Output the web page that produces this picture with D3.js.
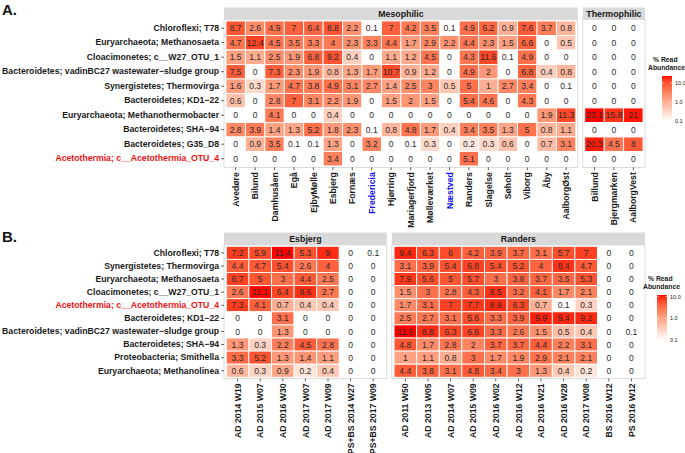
<!DOCTYPE html>
<html><head><meta charset="utf-8">
<script src="https://cdn.jsdelivr.net/npm/d3@7"></script>
<style>body{margin:0;background:#fff}svg{display:block}</style>
</head><body><svg id="c" width="685" height="453"></svg>
<script>
// ---------------- DATA ----------------
const rowsA = ["Chloroflexi; T78","Euryarchaeota; Methanosaeta","Cloacimonetes; c__W27_OTU_1",
  "Bacteroidetes; vadinBC27 wastewater\u2212sludge group","Synergistetes; Thermovirga","Bacteroidetes; KD1\u221222",
  "Euryarchaeota; Methanothermobacter","Bacteroidetes; SHA\u221294","Bacteroidetes; G35_D8","Acetothermia; c__Acetothermia_OTU_4"];
const colsMeso = ["Avedøre","Bilund","Damhusåen","Egå","EjbyMølle","Esbjerg","Fornæs","Fredericia","Hjørring",
  "Mariagerfjord","Mølleværket","Næstved","Randers","Slagelse","Søholt","Viborg","Åby","AalborgØst"];
const colsThermo = ["Billund","Bjergmarken","AalborgVest"];
const valsMeso = [
  [8.7,2.6,4.9,7,6.4,8.8,2.2,0.1,7,4.2,3.5,0.1,4.9,6.2,0.9,7.6,3.7,0.8],
  [4.7,12.4,4.5,3.5,3.3,4,2.3,3.3,4.4,1.7,2.9,2.2,4.4,2.3,1.5,6.6,0,0.5],
  [1.5,1.1,2.5,1.9,6.8,9.2,0.4,0,1.1,1.2,4.5,0,4.3,11.6,0.1,4.9,0,0],
  [7.5,0,7.3,2.3,1.9,0.8,1.3,1.7,10.7,0.9,1.2,0,4.9,2,0,6.8,0.4,0.8],
  [1.6,0.3,1.7,4.7,3.8,4.9,3.1,2.7,1.4,2.5,3,0.5,5,1,2.7,3.4,0,0.1],
  [0.6,0,2.8,7,3.1,2.2,1.9,0,1.5,2,1.5,0,5.4,4.6,0,4.3,0,0],
  [0,0,4.1,0,0,0.4,0,0,0,0,0,0,0,0,0,0,1.9,11.3],
  [2.8,3.9,1.4,1.3,5.2,1.8,2.3,0.1,0.8,4.8,1.7,0.4,3.4,3.5,1.3,5,0.8,1.1],
  [0,0.9,3.5,0.1,0.1,1.3,0,3.2,0,0.1,0.3,0,0.2,0.3,0.6,0,0.7,3.1],
  [0,0,0,0,0,3.4,0,0,0,0,0,0,5.1,0,0,0,0,0]
];
const valsThermo = [
  [0,0,0],[0,0,0],[0,0,0],[0,0,0],[0,0,0],[0,0,0],[23.1,15.8,21],[0,0,0],[20.3,4.5,8],[0,0,0]
];
const rowsB = ["Chloroflexi; T78","Synergistetes; Thermovirga","Euryarchaeota; Methanosaeta","Cloacimonetes; c__W27_OTU_1",
  "Acetothermia; c__Acetothermia_OTU_4","Bacteroidetes; KD1\u221222","Bacteroidetes; vadinBC27 wastewater\u2212sludge group",
  "Bacteroidetes; SHA\u221294","Proteobacteria; Smithella","Euryarchaeota; Methanolinea"];
const colsEsb = ["AD 2014 W19","AD 2015 W07","AD 2016 W30","AD 2017 W07","AD 2017 W09","PS+BS 2014 W27","PS+BS 2017 W09"];
const colsRan = ["AD 2011 W50","AD 2013 W05","AD 2014 W07","AD 2015 W09","AD 2016 W02","AD 2016 W12","AD 2016 W21",
  "AD 2016 W28","AD 2017 W08","BS 2016 W12","PS 2016 W12"];
const valsEsb = [
  [7.2,5.9,11.4,5.3,9,0,0.1],
  [4.4,4.7,5.4,2.6,4,0,0],
  [6.7,5,3,4.4,2.5,0,0],
  [2.6,11.1,6.4,8.6,2.7,0,0],
  [7.3,4.1,0.7,0.4,0.4,0,0],
  [0,0,3.1,0,0,0,0],
  [0,0,1.3,0,0,0,0],
  [1.3,0.3,2.2,4.5,2.8,0,0],
  [3.3,5.2,1.3,1.4,1.1,0,0],
  [0.6,0.3,0.9,0.2,0.4,0,0]
];
const valsRan = [
  [9.4,6.3,6,4.2,3.9,3.7,3.1,5.7,7,0,0],
  [3.1,3.9,5.4,6.8,5.4,5.2,4,8.4,4.7,0,0],
  [7.9,5.6,5,5.7,3,3.8,3.7,3.5,5.3,0,0],
  [1.5,3,2.8,4.3,8.5,3.2,4.1,1.7,2.1,0,0],
  [1.7,3.1,7,7.7,8.9,6.3,0.7,0.1,0.3,0,0],
  [2.5,2.7,3.1,5.6,3.3,3.9,9.9,9.4,9.2,0,0],
  [11.5,8.8,6.3,6.6,3.3,2.6,1.5,0.5,0.4,0,0.1],
  [4.8,1.7,2.8,2,3.7,3.7,4.4,2.2,3.1,0,0],
  [1,1.1,0.8,3,1.7,1.9,2.9,2.1,2.1,0,0],
  [4.4,3.8,3.1,4.8,3.4,3,1.3,0.4,0.2,0,0]
];
const redRows = ["Acetothermia; c__Acetothermia_OTU_4"];
const blueCols = ["Fredericia","Næstved"];
const legendTicks = [10, 1, 0.1];

// ---------------- DRAW ----------------
const FONT = "'Liberation Sans', Arial, Helvetica, sans-serif";
const AXFS = 8.7;
const svg = d3.select("#c").style("font-family", FONT);
svg.append("rect").attr("width",685).attr("height",453).attr("fill","#fff");

function facet(o) {
  const x = d3.scaleBand().domain(o.cols).range([o.x0, o.x1]).paddingInner(0).paddingOuter(0.1);
  const y = d3.scaleBand().domain(o.rows).range([o.y0, o.y1]).paddingInner(0).paddingOuter(0.1);
  const g = svg.append("g");
  g.append("rect").attr("x", o.x0).attr("y", o.sy).attr("width", o.x1 - o.x0).attr("height", o.y0 - o.sy)
    .attr("fill", "#d9d9d9");
  g.append("text").attr("x", (o.x0 + o.x1) / 2).attr("y", (o.sy + o.y0) / 2).attr("dy", "0.35em")
    .attr("text-anchor", "middle").attr("font-size", 8.8).attr("font-weight", "bold").attr("fill", "#1a1a1a")
    .text(o.strip);
  g.append("rect").attr("x", o.x0).attr("y", o.y0).attr("width", o.x1 - o.x0).attr("height", o.y1 - o.y0)
    .attr("fill", "#fff").attr("stroke", "#d4d4d4").attr("stroke-width", 0.8);
  const cells = [];
  o.rows.forEach((r, i) => o.cols.forEach((c, j) => cells.push({r, c, v: o.vals[i][j]})));
  g.selectAll("rect.cell").data(cells).join("rect").attr("class", "cell")
    .attr("x", d => x(d.c)).attr("y", d => y(d.r)).attr("width", x.bandwidth()).attr("height", y.bandwidth())
    .attr("fill", d => d.v > 0 ? o.color(d.v) : "#fff").attr("stroke", "#fff").attr("stroke-width", 0.9);
  g.selectAll("text.val").data(cells).join("text").attr("class", "val")
    .attr("x", d => x(d.c) + x.bandwidth() / 2).attr("y", d => y(d.r) + y.bandwidth() / 2).attr("dy", "0.36em")
    .attr("text-anchor", "middle").attr("font-size", 8.6).attr("fill", "#2a2a2a").text(d => String(d.v));
  const xa = g.append("g").attr("transform", `translate(0,${o.y1})`)
    .call(d3.axisBottom(x).tickSize(2.75).tickPadding(2));
  xa.select(".domain").remove();
  xa.selectAll(".tick line").attr("stroke", "#333").attr("stroke-width", 0.8);
  xa.selectAll(".tick text").attr("transform", "rotate(-90)").attr("x", -4.8).attr("y", 0).attr("dy", "0.36em")
    .attr("text-anchor", "end").attr("font-size", AXFS).attr("font-weight", "bold").attr("font-family", FONT)
    .attr("fill", d => blueCols.includes(d) ? "#1010ee" : "#1a1a1a");
  if (o.yaxis) {
    const ya = g.append("g").attr("transform", `translate(${o.x0},0)`)
      .call(d3.axisLeft(y).tickSize(2.75).tickPadding(2.2));
    ya.select(".domain").remove();
    ya.selectAll(".tick line").attr("stroke", "#333").attr("stroke-width", 0.8);
    ya.selectAll(".tick text").attr("font-size", AXFS).attr("font-weight", "bold").attr("font-family", FONT)
      .attr("fill", d => redRows.includes(d) ? "#ee1111" : "#1a1a1a");
  }
}

function legend(lx, yBottom, len, color, dmax, id) {
  const g = svg.append("g");
  const ys = d3.scaleLog().domain([0.1, dmax]).range([yBottom, yBottom - len]);
  const grad = svg.append("defs").append("linearGradient").attr("id", id)
    .attr("x1", 0).attr("y1", 1).attr("x2", 0).attr("y2", 0);
  d3.range(0, 1.0001, 0.05).forEach(t => {
    grad.append("stop").attr("offset", t).attr("stop-color", color(Math.pow(10, Math.log10(0.1) + t * (Math.log10(dmax) - Math.log10(0.1)))));
  });
  g.append("text").attr("x", lx - 9).attr("y", yBottom - len - 14).attr("font-size", 6.8).attr("font-weight", "bold")
    .attr("fill", "#1a1a1a").text("% Read");
  g.append("text").attr("x", lx - 14).attr("y", yBottom - len - 6).attr("font-size", 6.8).attr("font-weight", "bold")
    .attr("fill", "#1a1a1a").text("Abundance");
  g.append("rect").attr("x", lx).attr("y", yBottom - len).attr("width", 10).attr("height", len).attr("fill", `url(#${id})`);
  const ax = g.append("g").attr("transform", `translate(${lx + 10},0)`)
    .call(d3.axisRight(ys).tickValues(legendTicks).tickFormat(d3.format(".1f")).tickSize(0).tickPadding(3));
  ax.select(".domain").remove();
  ax.selectAll(".tick text").attr("font-size", 5.5).attr("fill", "#1a1a1a").attr("font-family", FONT);
  legendTicks.forEach(t => {
    g.append("line").attr("x1", lx).attr("x2", lx + 2).attr("y1", ys(t)).attr("y2", ys(t)).attr("stroke", "#fff").attr("stroke-width", 0.6);
    g.append("line").attr("x1", lx + 8).attr("x2", lx + 10).attr("y1", ys(t)).attr("y2", ys(t)).attr("stroke", "#fff").attr("stroke-width", 0.6);
  });
}

// Panel A
const maxA = d3.max([...valsMeso.flat(), ...valsThermo.flat()]);
const colorA = d3.scaleSequentialLog(d3.interpolateLab("#ffffff", "#ff0000")).domain([0.1, maxA]).clamp(true);
const cwA = (645 - 224 - 5) / (colsMeso.length + colsThermo.length + 0.4);
const xm1 = 224 + cwA * (colsMeso.length + 0.2);
facet({rows: rowsA, cols: colsMeso, vals: valsMeso, x0: 224, x1: xm1, sy: 7.5, y0: 19.5, y1: 167.4,
  strip: "Mesophilic", color: colorA, yaxis: true});
facet({rows: rowsA, cols: colsThermo, vals: valsThermo, x0: xm1 + 5, x1: 645, sy: 7.5, y0: 19.5, y1: 167.4,
  strip: "Thermophilic", color: colorA, yaxis: false});
legend(662, 121, 45, colorA, maxA, "gA");

// Panel B
const maxB = d3.max([...valsEsb.flat(), ...valsRan.flat()]);
const colorB = d3.scaleSequentialLog(d3.interpolateLab("#ffffff", "#ff0000")).domain([0.1, maxB]).clamp(true);
const cwB = (645 - 224 - 5) / (colsEsb.length + colsRan.length + 0.4);
const xe1 = 224 + cwB * (colsEsb.length + 0.2);
facet({rows: rowsB, cols: colsEsb, vals: valsEsb, x0: 224, x1: xe1, sy: 232.5, y0: 245, y1: 378.6,
  strip: "Esbjerg", color: colorB, yaxis: true});
facet({rows: rowsB, cols: colsRan, vals: valsRan, x0: xe1 + 5, x1: 645, sy: 232.5, y0: 245, y1: 378.6,
  strip: "Randers", color: colorB, yaxis: false});
legend(657, 340, 45, colorB, maxB, "gB");

svg.append("text").attr("x", 2).attr("y", 15).attr("font-size", 15).attr("font-weight", "bold").attr("fill", "#111").text("A.");
svg.append("text").attr("x", 2).attr("y", 242).attr("font-size", 15).attr("font-weight", "bold").attr("fill", "#111").text("B.");
</script></body></html>
